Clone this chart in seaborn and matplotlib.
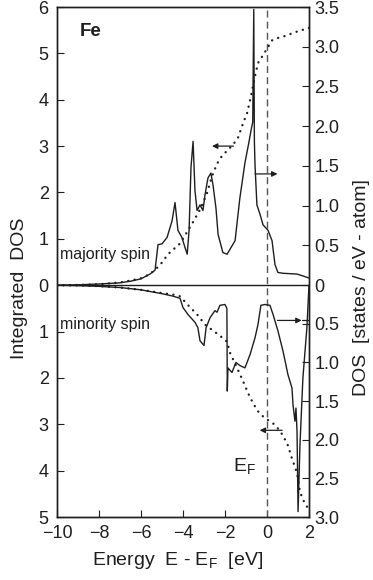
import numpy as np
import matplotlib
matplotlib.use("Agg")
import matplotlib.pyplot as plt
import seaborn as sns

# ---------------- data ----------------
# majority-spin DOS [states / eV - atom]
energy_dos_maj = [-10, -9, -8, -7, -6.5, -6, -5.57, -5.33, -5.19, -5.0, -4.76, -4.52, -4.38,
                  -4.24, -4.05, -3.9, -3.8, -3.71, -3.62, -3.52, -3.43, -3.33, -3.19, -3.05,
                  -2.95, -2.81, -2.67, -2.57, -2.43, -2.33, -2.1, -1.9, -1.52, -1.29, -1.05,
                  -0.86, -0.76, -0.68, -0.63, -0.60, -0.57, -0.48, -0.33, -0.19, 0.05, 0.24,
                  0.38, 0.52, 0.76, 1.43, 1.9, 2.0]
dos_maj = [0, 0.005, 0.015, 0.03, 0.05, 0.08, 0.14, 0.19, 0.51, 0.52, 0.6, 0.81, 1.04,
           0.69, 0.6, 0.47, 0.39, 0.69, 1.48, 1.81, 1.19, 0.94, 1.01, 0.94,
           1.14, 1.35, 1.41, 1.26, 0.97, 0.64, 0.41, 0.39, 0.56, 1.1, 1.54,
           1.8, 1.95, 2.05, 3.47, 1.8, 1.51, 1.01, 0.89, 0.76, 0.69, 0.56,
           0.26, 0.16, 0.15, 0.14, 0.1, 0.09]

# minority-spin DOS [states / eV - atom] (drawn downward)
energy_dos_min = [-10, -9, -8, -7, -6, -5, -4.5, -4.14, -4.0, -3.76, -3.43, -3.29, -3.19,
                  -3.0, -2.9, -2.71, -2.48, -2.38, -2.24, -2.0, -1.91, -1.89, -1.86, -1.67,
                  -1.48, -1.29, -1.05, -0.81, -0.57, -0.43, -0.29, -0.1, 0.14, 0.29, 0.52,
                  0.76, 1.0, 1.19, 1.24, 1.33, 1.38, 1.43, 1.48, 1.57, 1.71, 1.9, 2.0]
dos_min = [0, 0.005, 0.015, 0.03, 0.06, 0.11, 0.14, 0.17, 0.29, 0.38, 0.48, 0.55, 0.72,
           0.78, 0.55, 0.42, 0.33, 0.35, 0.26, 0.25, 0.3, 1.37, 1.07, 1.13,
           1.0, 1.04, 1.07, 0.9, 0.68, 0.51, 0.26, 0.25, 0.26, 0.38, 0.59,
           0.85, 1.16, 1.33, 1.55, 1.76, 1.59, 1.89, 2.93, 2.07, 1.2, 0.55, 0.0]

# integrated DOS (electrons)
energy_int_maj = [-10, -9, -8, -7, -6.5, -6, -5.57, -5.1, -4.71, -4.14, -3.6, -3.19, -2.86,
                  -2.62, -2.38, -2.14, -1.9, -1.62, -1.38, -1.19, -0.95, -0.76, -0.6, -0.43,
                  -0.19, 0.0, 0.24, 0.5, 0.76, 1.43, 2.0]
int_maj = [0, 0.005, 0.02, 0.06, 0.1, 0.15, 0.24, 0.43, 0.67, 0.9, 1.3, 1.63, 1.98,
           2.35, 2.62, 2.79, 2.9, 3.03, 3.18, 3.43, 3.71, 4.08, 4.45, 4.79,
           4.96, 5.1, 5.28, 5.33, 5.36, 5.47, 5.55]

energy_int_min = [-10, -9, -8, -7, -6, -5, -4.5, -4.14, -3.76, -3.33, -2.95, -2.57, -2.24,
                  -1.9, -1.76, -1.43, -1.14, -0.9, -0.67, -0.43, -0.19, 0.05, 0.29, 0.52,
                  0.76, 1.0, 1.19, 1.43, 1.57, 1.81, 2.0]
int_min = [0, 0.005, 0.02, 0.05, 0.1, 0.17, 0.2, 0.24, 0.43, 0.63, 0.85, 0.98, 1.09,
           1.22, 1.46, 1.78, 2.07, 2.33, 2.54, 2.72, 2.83, 2.91, 2.98, 3.09,
           3.24, 3.46, 3.74, 4.05, 4.46, 4.72, 4.83]

x_ticks = [-10, -8, -6, -4, -2, 0, 2]
int_ticks = [-5, -4, -3, -2, -1, 0, 1, 2, 3, 4, 5, 6]
dos_ticks = [-3.0, -2.5, -2.0, -1.5, -1.0, -0.5, 0.0, 0.5, 1.0, 1.5, 2.0, 2.5, 3.0, 3.5]
fermi_energy = 0.0

# annotation arrows: (x_start, x_end, y) in left-axis units
arrow_specs = [(-1.6, -2.62, 3.0), (-0.57, 0.5, 2.4), (0.5, 1.65, -0.76), (0.72, -0.35, -3.13)]

# ---------------- style ----------------
sns.set_theme(style="ticks")
plt.rcParams['font.family'] = ['Liberation Sans', 'DejaVu Sans']
plt.rcParams['mathtext.fontset'] = 'custom'
plt.rcParams['mathtext.rm'] = 'Liberation Sans'
ink = '#1e1e1e'

fig = plt.figure(figsize=(3.73, 5.80), dpi=100)
ax = fig.add_axes([0.1528, 0.1086, 0.6756, 0.8793])
ax.set_xlim(-10, 2)
ax.set_ylim(-5, 6)

ax2 = ax.twinx()

def fwd(d):
    d = np.asarray(d, dtype=float)
    return np.where(d >= 0, d * 6 / 3.5, d * 5 / 3)

def inv(y):
    y = np.asarray(y, dtype=float)
    return np.where(y >= 0, y * 3.5 / 6, y * 3 / 5)

ax2.set_yscale('function', functions=(fwd, inv))
ax2.set_ylim(-3, 3.5)

# reference lines
ax.axhline(0, color=ink, lw=1.0, zorder=1)
ax.axvline(fermi_energy, color='#555555', lw=1.0, dashes=(5, 3), zorder=1)

dot_kw = dict(color=ink, linewidth=1.7, linestyle=(0, (0.05, 2.7)),
              dash_capstyle='round', estimator=None, sort=False)
sns.lineplot(x=energy_int_maj, y=int_maj, ax=ax, **dot_kw)
sns.lineplot(x=energy_int_min, y=[-v for v in int_min], ax=ax, **dot_kw)

line_kw = dict(color=ink, linewidth=1.0, estimator=None, sort=False)
sns.lineplot(x=energy_dos_maj, y=dos_maj, ax=ax2, **line_kw)
sns.lineplot(x=energy_dos_min, y=[-v for v in dos_min], ax=ax2, **line_kw)

for x0, x1, yv in arrow_specs:
    ax.annotate('', xy=(x1, yv), xytext=(x0, yv),
                arrowprops=dict(arrowstyle='-|>', lw=0.9, color=ink,
                                mutation_scale=8, shrinkA=0, shrinkB=0))
ax.plot([arrow_specs[2][1], 2.0], [arrow_specs[2][2]] * 2, color=ink, lw=0.9)

# ticks
ax.set_xticks(x_ticks)
ax.set_yticks(int_ticks)
ax.set_yticklabels([str(abs(t)) for t in int_ticks])
ax2.set_yticks(dos_ticks)
ax2.set_yticklabels(['0' if t == 0 else f'{abs(t):.1f}' for t in dos_ticks])
ax2.minorticks_off()

ax.tick_params(axis='both', direction='in', length=5, width=0.8, labelsize=13,
               colors=ink, pad=6, top=False, right=False)
ax.tick_params(axis='y', pad=6)
ax2.tick_params(axis='y', direction='in', length=5, width=0.8, labelsize=13,
                colors=ink, pad=4)

for a in (ax, ax2):
    for s in a.spines.values():
        s.set_color(ink)
        s.set_linewidth(1.0)

# labels
ax.set_xlabel('Energy  E - E$_\\mathregular{F}$  [eV]', fontsize=14, color=ink)
ax.xaxis.set_label_coords(0.48, -0.065)
ax.set_ylabel('Integrated  DOS', fontsize=14, color=ink)
ax.yaxis.set_label_coords(-0.115, 0.449)
ax2.set_ylabel('DOS  [states / eV - atom]', fontsize=14, color=ink)
ax2.yaxis.set_label_coords(1.175, 0.449)

ax.text(-8.9, 5.47, 'Fe', fontsize=13.5, fontweight='bold', va='center', ha='left', color=ink)
ax.text(-9.86, 0.67, 'majority spin', fontsize=11.5, va='center', ha='left', color=ink)
ax.text(-9.86, -0.85, 'minority spin', fontsize=11.5, va='center', ha='left', color=ink)
ax.text(-1.62, -4.02, 'E$_\\mathregular{F}$', fontsize=14, va='baseline', ha='left', color=ink)

fig.savefig('out.png', dpi=100)
